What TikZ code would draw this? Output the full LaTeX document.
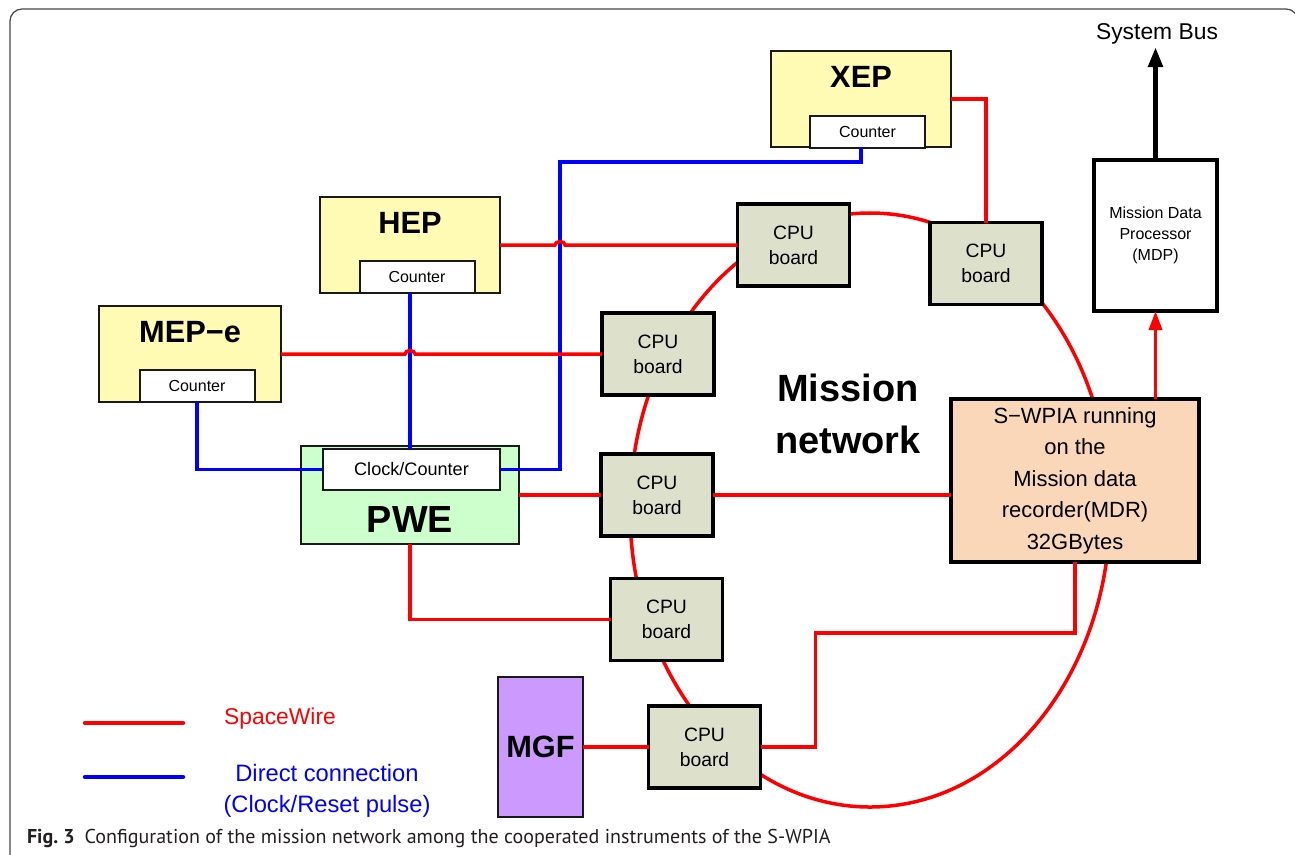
\documentclass[tikz,border=0pt]{standalone}
\usepackage{fontspec}
\setmainfont{Liberation Sans}
\newfontfamily\capfont{PT Sans}
\usetikzlibrary{arrows.meta,positioning,shapes.geometric,calc}

\definecolor{instyellow}{RGB}{255,250,180}
\definecolor{pwegreen}{RGB}{204,255,204}
\definecolor{cpugray}{RGB}{221,224,202}
\definecolor{mdrpeach}{RGB}{250,215,185}
\definecolor{mgfpurple}{RGB}{204,153,255}
\definecolor{framegray}{RGB}{70,70,70}
\definecolor{captext}{RGB}{35,31,32}

\begin{document}
\begin{tikzpicture}[x=0.2mm, y=-0.2mm,
  every node/.style={inner sep=0pt, outer sep=0pt},
  inst/.style={draw=black!90, line width=0.4mm, fill=instyellow, minimum width=36mm, minimum height=19.2mm},
  cnt/.style={draw=black!90, line width=0.4mm, fill=white, minimum width=23mm, minimum height=6.4mm, font=\fontsize{9.1}{10}\selectfont},
  iname/.style={font=\fontsize{17.5}{20}\selectfont\bfseries},
  cpu/.style={draw, line width=0.7mm, fill=cpugray, minimum width=22.4mm, minimum height=16.4mm, align=center, font=\fontsize{11}{14.2}\selectfont},
  spw/.style={red, line width=0.7mm},
  dc/.style={blue, line width=0.7mm}]
\useasboundingbox (0,0) rectangle (1295,854);
\clip (0,0) rectangle (1295,854);

% frame of the figure
\draw[framegray, line width=0.25mm, rounded corners=2.4mm] (10,900) -- (10,9) -- (1298,9) -- (1298,900);

% mission network ring
\node[ellipse, draw=red, line width=0.7mm, minimum width=96mm, minimum height=118.8mm] (ring) at (870,510) {};

% instruments
\node[inst] (xep) at (861,99) {};
\node[iname] (xepname) at (861,77) {XEP};
\node[cnt] (xepcnt) at (867.5,131.5) {Counter};

\node[inst] (hep) at (410,245) {};
\node[iname] (hepname) at (410,223) {HEP};
\node[cnt] (hepcnt) at (417,277) {Counter};

\node[inst, minimum width=36.4mm] (mep) at (190,354) {};
\node[iname] (mepname) at (190,332) {MEP−e};
\node[cnt] (mepcnt) at (197,386) {Counter};

\node[inst, fill=pwegreen, minimum width=43.6mm, minimum height=19.6mm] (pwe) at (410,495) {};
\node[cnt, minimum width=35.4mm, minimum height=8.2mm, font=\fontsize{10.3}{12}\selectfont] (clk) at (411.5,469.5) {Clock/Counter};
\node[font=\fontsize{21.5}{24}\selectfont\bfseries] (pwename) at (410,519) {PWE};

\node[inst, fill=mgfpurple, minimum width=17mm, minimum height=28mm, iname] (mgf) at (540.5,747) {MGF};

% cpu boards
\node[cpu] (cpuA) at (793.5,245) {CPU\\board};
\node[cpu] (cpuB) at (986,263.5) {CPU\\board};
\node[cpu] (cpuC) at (658,354) {CPU\\board};
\node[cpu] (cpuD) at (657,495) {CPU\\board};
\node[cpu] (cpuE) at (666.5,619.5) {CPU\\board};
\node[cpu] (cpuF) at (704.5,747) {CPU\\board};

% processor and recorder
\node[draw, line width=0.9mm, fill=white, minimum width=24.6mm, minimum height=30.2mm, align=center, font=\fontsize{9.1}{12}\selectfont] (mdp) at (1155.5,235.5) {Mission Data\\Processor\\(MDP)};
\node[draw, line width=0.9mm, fill=mdrpeach, minimum width=49.6mm, minimum height=32.6mm, align=center, font=\fontsize{12.5}{17.9}\selectfont] (mdr) at (1075,480.5) {S−WPIA running\\on the\\Mission data\\recorder(MDR)\\32GBytes};

\node[align=center, font=\fontsize{21.6}{29.6}\selectfont\bfseries] (net) at (848,414) {Mission\\network};

\node[font=\fontsize{13}{15}\selectfont] (sysbus) at (1157,34) {System Bus};
\coordinate (busend) at (1156,47);

% direct connections
\coordinate (hopA) at (560,245);
\coordinate (hopB) at (410,354);
\draw[dc] (hep.south) -- (hep.south |- clk.north);
\draw[dc] (mepcnt.south) |- (clk.west);
\draw[dc] (xep.south) -- ++(0,15) -| (hopA) |- (clk.east);

% spacewire
\draw[spw] (hep.east) -- ($(hopA)+(-5,0)$) arc[start angle=180, end angle=360, x radius=5, y radius=3.5] -- (cpuA.west);
\draw[spw] (mep.east) -- ($(hopB)+(-5,0)$) arc[start angle=180, end angle=360, x radius=5, y radius=3.5] -- (cpuC.west);
\draw[spw] (xep.east) -| (cpuB.north);
\draw[spw] (pwe.east) -- (cpuD.west);
\draw[spw] (pwe.south) |- (cpuE.west);
\draw[spw] (mgf.east) -- (cpuF.west);
\draw[spw] (cpuD.east) -- (cpuD.east -| mdr.west);
\draw[spw] (cpuF.east) -- ++(55,0) -- ++(0,-114) -| (mdr.south);
\draw[spw, -{Triangle[width=2.6mm, length=3.8mm]}] (mdp.south |- mdr.north) -- (mdp.south);
\draw[line width=1mm, -{Triangle[width=2.8mm, length=4mm]}] (mdp.north) -- (mdp.north |- busend);

% legend
\coordinate (spwA) at (85,723);
\coordinate (spwB) at (183,723);
\coordinate (dcA) at (85,777);
\coordinate (dcB) at (183,777);
\draw[spw, line width=0.9mm, line cap=round] (spwA) -- (spwB);
\draw[dc, line width=0.9mm, line cap=round] (dcA) -- (dcB);
\node[text=red, font=\fontsize{13}{15}\selectfont] (spwtxt) at (280,719) {SpaceWire};
\node[text=blue, align=center, font=\fontsize{13.5}{17.6}\selectfont] (dctxt) at (327,791) {Direct connection\\(Clock/Reset pulse)};

% caption
\node[anchor=base west, text=captext, font=\capfont\fontsize{11.4}{13}\selectfont] (cap) at (27,843) {\textbf{Fig.~3}\hspace{0.5em}Configuration of the mission network among the cooperated instruments of the S-WPIA};
\end{tikzpicture}
\end{document}
